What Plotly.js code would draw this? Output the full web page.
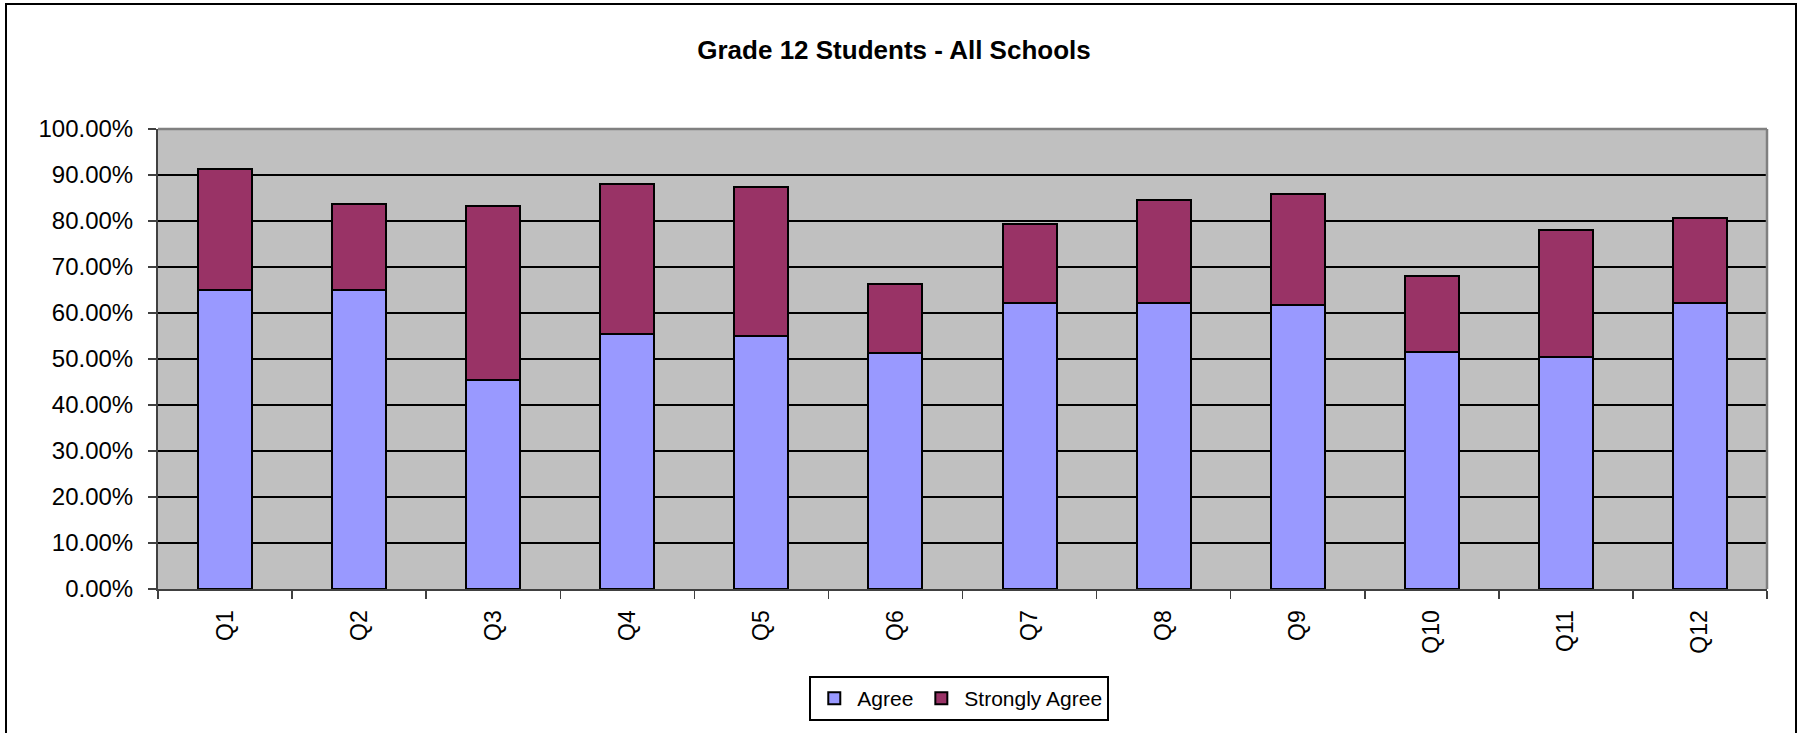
<!DOCTYPE html>
<html>
<head>
<meta charset="utf-8">
<script src="https://cdn.plot.ly/plotly-3.0.1.min.js"></script>
<style>
  html, body { margin: 0; padding: 0; background: #fff; overflow: hidden; }
  #wrap { position: relative; width: 1797px; height: 733px; overflow: hidden; }
  #chart { position: absolute; left: 0; top: 0; width: 1797px; height: 733px; }
  #frame { position: absolute; left: 5px; top: 3px; width: 1788px; height: 760px; border: 2px solid #000; pointer-events: none; }
</style>
</head>
<body>
<div id="wrap">
  <div id="chart"></div>
  <div id="frame"></div>
</div>
<script>
const categories = ["Q1","Q2","Q3","Q4","Q5","Q6","Q7","Q8","Q9","Q10","Q11","Q12"];
const agree = [65.1, 64.9, 45.4, 55.4, 55.1, 51.2, 62.2, 62.1, 61.7, 51.6, 50.5, 62.1];
const stronglyAgree = [26.1, 18.7, 37.9, 32.6, 32.4, 15.0, 17.1, 22.4, 24.2, 16.5, 27.6, 18.5];
const seriesNames = ["Agree", "Strongly Agree"];
const yTickVals = [0, 10, 20, 30, 40, 50, 60, 70, 80, 90, 100];
const yTickText = ["0.00%","10.00%","20.00%","30.00%","40.00%","50.00%","60.00%","70.00%","80.00%","90.00%","100.00%"];

const FONT = "Arial, 'Liberation Sans', sans-serif";

const traces = [
  {
    type: "bar", name: seriesNames[0], x: categories, y: agree,
    marker: { color: "#9999FF", line: { color: "#000", width: 2 } },
    hoverinfo: "skip"
  },
  {
    type: "bar", name: seriesNames[1], x: categories, y: stronglyAgree,
    marker: { color: "#993366", line: { color: "#000", width: 2 } },
    hoverinfo: "skip"
  }
];

const layout = {
  width: 1797, height: 733,
  margin: { l: 158, r: 30, t: 129, b: 144, pad: 0 },
  paper_bgcolor: "rgba(0,0,0,0)",
  plot_bgcolor: "#C0C0C0",
  barmode: "stack",
  bargap: 0.597,
  showlegend: true,
  font: { family: FONT, color: "#000" },
  title: {
    text: "Grade 12 Students - All Schools",
    font: { family: FONT, size: 26, weight: "bold", color: "#000" },
    x: 894 / 1797, xanchor: "center", xref: "container",
    y: 1 - 50/733, yanchor: "middle", yref: "container"
  },
  xaxis: {
    type: "category",
    tickson: "boundaries",
    ticks: "outside", ticklen: 8, tickwidth: 1.5, tickcolor: "#404040",
    tickangle: -90,
    tickfont: { family: FONT, size: 23, color: "#000" },
    ticklabelstandoff: 10,
    showline: true, linecolor: "#404040", linewidth: 2,
    showgrid: false, zeroline: false, fixedrange: true
  },
  yaxis: {
    range: [0, 100],
    tickmode: "array", tickvals: yTickVals, ticktext: yTickText,
    ticks: "outside", ticklen: 8, tickwidth: 1.5, tickcolor: "#404040",
    tickfont: { family: FONT, size: 24, color: "#000" },
    ticklabelstandoff: 10,
    showgrid: true, gridcolor: "#000", gridwidth: 1.5,
    showline: true, linecolor: "#404040", linewidth: 2,
    zeroline: false, fixedrange: true
  },
  shapes: [
    { type: "line", xref: "paper", yref: "paper", x0: 0, x1: 1, y0: 1, y1: 1,
      line: { color: "#808080", width: 2.5 }, layer: "above" },
    { type: "line", xref: "paper", yref: "paper", x0: 1, x1: 1, y0: 0, y1: 1,
      line: { color: "#808080", width: 2.5 }, layer: "above" }
  ],
  legend: {
    orientation: "h",
    x: 0.498, xanchor: "center",
    y: (589 - 676) / 460, yanchor: "top",
    bgcolor: "#fff", bordercolor: "#000", borderwidth: 2,
    font: { family: FONT, size: 21, color: "#000" },
    itemwidth: 36,
    traceorder: "normal"
  }
};

Plotly.newPlot("chart", traces, layout, { staticPlot: true, displayModeBar: false });
</script>
</body>
</html>
